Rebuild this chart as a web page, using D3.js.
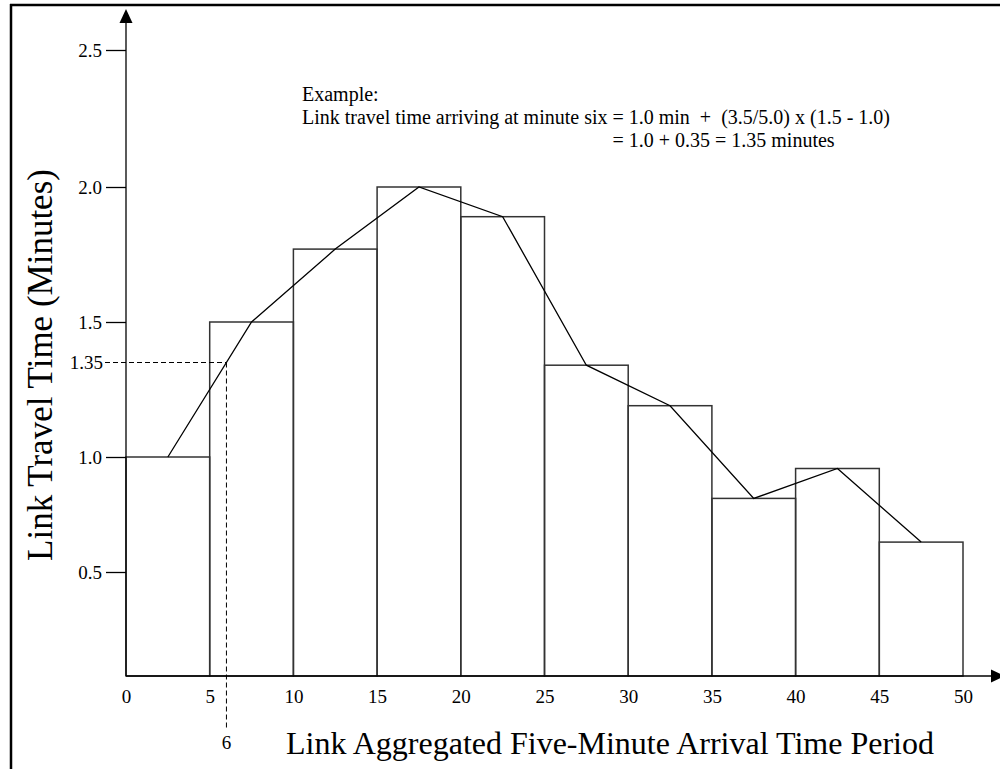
<!DOCTYPE html>
<html>
<head>
<meta charset="utf-8">
<script src="https://cdn.jsdelivr.net/npm/d3@7"></script>
<style>
  html, body { margin: 0; padding: 0; background: #fff; }
  svg { display: block; }
  text { font-family: "Liberation Serif", "Times New Roman", serif; fill: #000; }
</style>
</head>
<body>
<svg id="chart" width="1000" height="769"></svg>
<script>
// ---- data ----
const periodStarts = [0, 5, 10, 15, 20, 25, 30, 35, 40, 45];
const travelTimes  = [1.0, 1.5, 1.77, 2.0, 1.89, 1.34, 1.19, 0.82, 0.95, 0.63];
const xTickValues  = [0, 5, 10, 15, 20, 25, 30, 35, 40, 45, 50];
const yTickValues  = [0.5, 1.0, 1.5, 2.0, 2.5];
const yTickLabels  = ["0.5", "1.0", "1.5", "2.0", "2.5"];
const exampleMinute = 6;
const exampleValue  = 1.35;
const periodLength  = 5;
const annotationLines = [
  "Example:",
  "Link travel time arriving at minute six = 1.0 min  +  (3.5/5.0) x (1.5 - 1.0)",
  "= 1.0 + 0.35 = 1.35 minutes"
];
const xTitle = "Link Aggregated Five-Minute Arrival Time Period";
const yTitle = "Link Travel Time (Minutes)";

// ---- layout ----
const svg = d3.select("#chart");
const x = d3.scaleLinear().domain([0, 50]).range([126, 963]);
// hand-drawn axis: tick spacing is not uniform in the original
const y = d3.scaleLinear().domain([0, 0.5, 1.0, 1.5, 2.0, 2.5]).range([676, 572, 457, 322, 187, 50]);

// frame
svg.append("line").attr("x1", 10).attr("y1", 5).attr("x2", 1000).attr("y2", 5)
  .attr("stroke", "#000").attr("stroke-width", 2.5);
svg.append("line").attr("x1", 11).attr("y1", 4).attr("x2", 11).attr("y2", 769)
  .attr("stroke", "#000").attr("stroke-width", 2.5);

// bars
svg.append("g").selectAll("rect").data(periodStarts).join("rect")
  .attr("x", d => x(d))
  .attr("y", (d, i) => y(travelTimes[i]))
  .attr("width", d => x(d + periodLength) - x(d))
  .attr("height", (d, i) => y(0) - y(travelTimes[i]))
  .attr("fill", "none").attr("stroke", "#333").attr("stroke-width", 1.5);

// midpoint line
const line = d3.line().x((d, i) => x(d + periodLength / 2)).y((d, i) => y(travelTimes[i]));
svg.append("path").attr("d", line(periodStarts))
  .attr("fill", "none").attr("stroke", "#000").attr("stroke-width", 1.3);

// y axis
const yAxis = d3.axisLeft(y).tickValues(yTickValues).tickFormat((d, i) => yTickLabels[i])
  .tickSize(20).tickPadding(4);
const gy = svg.append("g").attr("transform", `translate(${x(0)},0)`).call(yAxis);
gy.select(".domain").remove();
gy.selectAll(".tick line").attr("stroke", "#000").attr("stroke-width", 1.3);
gy.selectAll(".tick text").style("font-size", "19px").style("font-family", "'Liberation Serif', serif");
svg.append("line").attr("x1", x(0)).attr("x2", x(0)).attr("y1", y(0)).attr("y2", 20)
  .attr("stroke", "#000").attr("stroke-width", 1.3);
svg.append("path").attr("d", `M${x(0)},9 L${x(0) - 6.5},23 L${x(0) + 6.5},23 Z`).attr("fill", "#000");

// x axis
const xAxis = d3.axisBottom(x).tickValues(xTickValues).tickFormat(d3.format("d"))
  .tickSize(0).tickPadding(14);
const gx = svg.append("g").attr("transform", `translate(0,${y(0)})`).call(xAxis);
gx.select(".domain").remove();
gx.selectAll(".tick text").style("font-size", "19px").style("font-family", "'Liberation Serif', serif");
svg.append("line").attr("x1", x(0)).attr("x2", 993).attr("y1", y(0)).attr("y2", y(0))
  .attr("stroke", "#000").attr("stroke-width", 1.5);
svg.append("path").attr("d", `M1005,${y(0)} L991,${y(0) - 6.5} L991,${y(0) + 6.5} Z`).attr("fill", "#000");

// example dashed guides
svg.append("line").attr("x1", x(0) - 21).attr("x2", x(exampleMinute))
  .attr("y1", y(exampleValue)).attr("y2", y(exampleValue))
  .attr("stroke", "#000").attr("stroke-width", 1).attr("stroke-dasharray", "5,3");
svg.append("line").attr("x1", x(exampleMinute)).attr("x2", x(exampleMinute))
  .attr("y1", y(exampleValue)).attr("y2", 728)
  .attr("stroke", "#000").attr("stroke-width", 1).attr("stroke-dasharray", "5,3");
svg.append("text").attr("x", x(0) - 23).attr("y", y(exampleValue)).attr("dy", "0.32em")
  .attr("text-anchor", "end").style("font-size", "19px").text(d3.format(".2f")(exampleValue));
svg.append("text").attr("x", x(exampleMinute)).attr("y", 749)
  .attr("text-anchor", "middle").style("font-size", "19px").text(exampleMinute);

// annotation
const annY = [101, 124, 147];
const ann = svg.append("g").selectAll("text").data(annotationLines).join("text")
  .attr("x", 302).attr("y", (d, i) => annY[i])
  .attr("xml:space", "preserve").style("white-space", "pre")
  .style("font-size", "20px").text(d => d);
// third line aligned under the "=" of the second line
const line2Node = ann.nodes()[1];
const eqX = line2Node.getStartPositionOfChar(annotationLines[1].indexOf("=")).x;
d3.select(ann.nodes()[2]).attr("x", eqX);

// titles
svg.append("text").attr("x", 610).attr("y", 754).attr("text-anchor", "middle")
  .style("font-size", "32px").text(xTitle);
svg.append("text").attr("transform", "translate(52,365) rotate(-90)").attr("text-anchor", "middle")
  .style("font-size", "35px").text(yTitle);
</script>
</body>
</html>
